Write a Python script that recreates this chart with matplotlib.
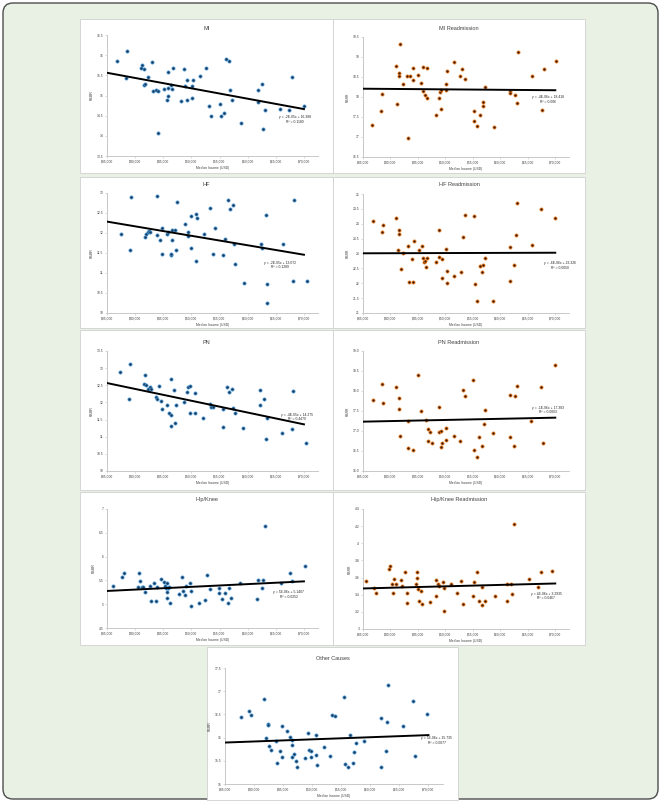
import numpy as np
import matplotlib
matplotlib.use('Agg')
import matplotlib.pyplot as plt
from matplotlib.patches import Rectangle, FancyBboxPatch
from matplotlib.ticker import FuncFormatter

# ---- data (median income, rate) per panel ----
mi_income = [36700, 38600, 38310, 41030, 41265, 41560, 41620, 41740, 42270, 43040, 43215, 43690, 44100,
             44100, 45110, 45580, 45820, 45870, 45870, 46290, 46470, 46700, 48240, 48770, 48890, 49240,
             49300, 50070, 50190, 50370, 51610, 52610, 53140, 53560, 55040, 55270, 55740, 56220, 56750,
             56870, 57220, 58820, 61830, 61770, 62540, 62720, 63070, 65730, 67390, 67800, 70000]
mi_rate = [15.85, 16.10, 15.43, 15.67, 15.75, 15.65, 15.25, 15.28, 15.45, 15.82, 15.11, 15.13, 15.10,
           14.08, 15.16, 14.89, 14.98, 15.58, 15.18, 15.26, 15.17, 15.68, 14.87, 15.65, 15.23, 14.88,
           15.38, 14.95, 15.23, 15.38, 15.48, 15.67, 14.73, 14.48, 14.78, 14.48, 14.57, 15.90, 15.85,
           15.14, 14.89, 14.33, 15.13, 14.85, 15.28, 14.18, 14.64, 14.67, 14.65, 15.45, 14.75]

mir_income = [36695, 38209, 38512, 40934, 41237, 41479, 41540, 41721, 42205, 43053, 43114, 43598, 44083,
              44143, 44991, 45536, 45899, 45838, 46262, 46626, 46686, 48260, 48745, 48927, 49290, 49230,
              50138, 50198, 50320, 51651, 52681, 53105, 53528, 55284, 55224, 55829, 56314, 56859, 56920,
              57222, 58857, 61763, 61824, 62671, 62974, 63216, 65820, 67515, 68000, 70119]
mir_rate = [17.31, 17.66, 18.08, 18.78, 17.82, 18.59, 18.53, 19.32, 18.33, 18.53, 16.98, 18.53, 18.72,
            18.43, 18.56, 18.35, 18.75, 18.14, 18.06, 18.72, 17.97, 17.55, 17.98, 18.13, 17.71, 18.17,
            18.33, 18.18, 18.65, 18.88, 18.53, 18.69, 18.46, 17.64, 17.39, 17.27, 17.54, 17.78, 17.87,
            18.25, 17.25, 18.15, 18.10, 18.06, 17.85, 19.12, 18.53, 17.67, 18.71, 18.90]

hf_income = [37460, 39020, 39320, 41720, 42020, 42320, 42440, 42620, 43820, 43940, 44480, 44780, 44840,
             45740, 45860, 46340, 46400, 46580, 46640, 47000, 47300, 47420, 48860, 49400, 49460, 49940,
             49940, 50780, 50840, 50960, 52280, 53240, 53780, 54140, 55700, 55940, 56420, 56840, 57380,
             57500, 57800, 59360, 62420, 62480, 63200, 63380, 63470, 66200, 68300, 68000, 70580]
hf_rate = [11.98, 11.57, 12.89, 11.91, 11.98, 12.03, 12.06, 12.03, 11.94, 12.93, 11.82, 12.12, 11.48,
           11.98, 12.03, 11.44, 11.48, 11.82, 12.08, 12.08, 11.58, 12.78, 12.23, 12.02, 11.92, 12.43,
           11.62, 11.31, 12.47, 12.37, 11.97, 12.62, 11.47, 12.12, 11.45, 11.85, 12.82, 12.60, 12.70,
           11.73, 11.23, 10.75, 11.73, 11.62, 12.44, 10.72, 10.26, 11.73, 12.82, 10.81, 10.79]

hfr_income = [36806, 38431, 38672, 41080, 41321, 41622, 41622, 41923, 42224, 43127, 43308, 44090, 44211,
              43910, 45234, 45716, 45956, 46017, 46257, 46498, 46679, 48244, 48846, 48786, 49388, 50170,
              49328, 50291, 50291, 51615, 52759, 53180, 53601, 55227, 55347, 56251, 56732, 56792, 57214,
              61789, 61849, 62572, 62812, 63113, 65762, 67388, 70036, 55769, 58719]
hfr_rate = [24.09, 23.71, 23.96, 24.19, 23.11, 23.79, 23.64, 22.49, 23.01, 23.24, 22.03, 22.03, 23.42,
            22.80, 23.13, 23.24, 22.86, 22.72, 22.74, 22.54, 22.86, 22.71, 23.79, 22.89, 22.83, 23.14,
            22.19, 22.41, 22.00, 22.26, 22.38, 23.57, 24.29, 24.26, 21.97, 22.59, 22.39, 22.61, 22.86,
            22.06, 23.22, 22.63, 23.63, 24.71, 23.30, 24.49, 24.19, 21.39, 21.39]

pn_income = [37340, 39080, 38900, 41780, 41600, 41960, 42200, 42620, 42800, 43700, 43940, 44300, 44600,
             44720, 45620, 46100, 46400, 46400, 46880, 47240, 48680, 49220, 49400, 49820, 49820, 50660,
             50720, 52100, 53240, 53540, 53900, 55700, 56240, 56720, 57200, 57380, 57680, 62120, 62240,
             62960, 68120, 63500, 46460, 47060, 55700, 59180, 63200, 66080, 67820, 70340]
pn_rate = [12.89, 13.13, 12.11, 12.79, 12.54, 12.50, 12.40, 12.44, 12.38, 12.15, 12.11, 12.48, 12.05,
           11.80, 11.93, 11.70, 11.62, 12.69, 12.36, 11.93, 12.00, 12.30, 12.44, 12.47, 11.70, 12.27,
           11.70, 11.55, 11.96, 11.88, 11.88, 11.82, 12.44, 12.30, 12.38, 11.83, 11.70, 11.93, 12.35,
           12.10, 12.33, 11.54, 11.32, 11.41, 11.29, 11.26, 10.93, 11.10, 11.23, 10.81]

pnr_income = [36746, 38371, 38612, 41020, 41502, 41562, 45053, 45595, 48786, 53120, 53541, 55107, 57292,
              61729, 62752, 63053, 67388, 69950, 41742, 43127, 44030, 46896, 47257, 46836, 47619, 49244,
              48846, 49208, 49328, 50170, 50170, 51495, 52639, 55227, 55769, 56190, 56672, 57094, 58719,
              61669, 62511, 65582, 67689, 43127, 46558]
pnr_rate = [17.77, 18.17, 17.70, 18.11, 17.83, 17.54, 18.39, 17.51, 17.59, 18.02, 17.87, 18.27, 17.53,
            17.90, 17.87, 18.13, 18.10, 18.64, 16.88, 16.57, 16.53, 17.04, 16.98, 16.76, 16.69, 16.61,
            16.98, 17.01, 16.69, 17.07, 16.78, 16.88, 16.75, 16.52, 16.36, 16.86, 16.63, 17.18, 16.96,
            16.86, 16.63, 17.25, 16.71, 17.25, 17.28]

hk_income = [36080, 37640, 38000, 40580, 40700, 40940, 41180, 41420, 41720, 42560, 42740, 43280, 43640,
             43880, 44600, 45140, 45320, 45500, 45620, 45800, 45620, 45740, 46100, 46280, 47780, 48380,
             48500, 48920, 48980, 49820, 49880, 49940, 51320, 52460, 52820, 53300, 54920, 54920, 55520,
             56060, 56540, 56720, 57080, 58640, 61700, 61820, 62600, 62780, 63080, 65840, 67520, 67820,
             70160]
hk_rate = [5.39, 5.57, 5.66, 5.37, 5.65, 5.49, 5.37, 5.37, 5.26, 5.39, 5.07, 5.44, 5.07,
           5.37, 5.53, 5.46, 5.39, 5.33, 5.14, 5.33, 5.26, 5.45, 5.37, 5.03, 5.21, 5.57,
           5.28, 5.19, 5.38, 5.45, 4.97, 5.28, 5.03, 5.08, 5.61, 5.32, 5.33, 5.24, 5.10,
           5.23, 5.02, 5.33, 5.12, 5.44, 5.10, 5.51, 5.33, 5.51, 6.64, 5.44, 5.65, 5.49,
           5.80]

hkr_income = [35482, 37047, 37348, 39816, 39997, 40298, 40418, 40659, 41080, 41923, 42104, 42706, 43007,
              43067, 44572, 44752, 44812, 44933, 45234, 45595, 45656, 47221, 48223, 48283, 48645, 48765,
              49548, 49669, 49789, 51052, 52196, 52778, 53179, 55147, 55087, 55688, 56089, 56631, 56751,
              57174, 59057, 61127, 61127, 61970, 62210, 62451, 65160, 66906, 67327, 69495]
hkr_rate = [3.56, 3.48, 3.42, 3.70, 3.73, 3.53, 3.42, 3.58, 3.53, 3.57, 3.50, 3.67, 3.42,
            3.30, 3.53, 3.59, 3.66, 3.47, 3.33, 3.44, 3.29, 3.31, 3.57, 3.38, 3.53, 3.50,
            3.55, 3.21, 3.48, 3.53, 3.42, 3.56, 3.29, 3.55, 3.39, 3.67, 3.33, 3.28, 3.49,
            3.33, 3.38, 3.33, 3.53, 3.52, 3.41, 4.23, 3.58, 3.49, 3.67, 3.68]

oc_income = [37690, 39180, 39460, 41750, 42040, 42320, 42440, 42610, 42950, 43750, 43920, 44440, 44780,
             44840, 45750, 46210, 46440, 46560, 46610, 46900, 47180, 47360, 48730, 49360, 49410, 49760,
             49870, 50620, 50670, 50790, 52050, 53080, 53480, 53880, 55480, 55590, 56110, 56510, 57020,
             57140, 57480, 58970, 61880, 61880, 62740, 62800, 63090, 65660, 67260, 67600, 69780]
oc_rate = [16.44, 16.57, 16.48, 16.84, 16.00, 16.29, 16.27, 15.82, 15.73, 15.93, 15.45, 15.71, 15.59,
           16.24, 16.14, 16.02, 15.95, 15.84, 15.59, 15.65, 15.50, 15.37, 15.55, 16.09, 15.73, 15.72,
           15.59, 16.06, 15.63, 15.42, 15.79, 15.60, 16.49, 16.47, 16.88, 15.43, 15.37, 16.06, 15.45,
           15.70, 15.88, 15.93, 16.42, 15.37, 15.71, 16.33, 17.13, 16.25, 16.79, 15.61, 16.50]

titles = ['MI', 'MI Readmission', 'HF', 'HF Readmission', 'PN', 'PN Readmission',
          'Hip/Knee', 'Hip/Knee Readmission', 'Other Causes']
equations = ['y = -2E-05x + 16.388\nR² = 0.1180', 'y = -4E-06x + 18.418\nR² = 0.006',
             'y = -2E-05x + 13.072\nR² = 0.1289', 'y = -6E-06x + 23.326\nR² = 0.0050',
             'y = -4E-05x + 14.275\nR² = 0.4470', 'y = -1E-06x + 17.383\nR² = 0.0003',
             'y = 5E-06x + 5.1407\nR² = 0.0252', 'y = 4E-06x + 3.2935\nR² = 0.0467',
             'y = 5E-06x + 15.735\nR² = 0.0077']
y_ranges = [(13.5, 16.5, 0.5), (16.5, 19.5, 0.5), (10, 13, 0.5), (21, 25, 0.5), (10, 13.5, 0.5),
            (16, 19, 0.5), (4.5, 7, 0.5), (3, 4.4, 0.2), (15, 17.5, 0.5)]
income_ticks = [35000, 40000, 45000, 50000, 55000, 60000, 65000, 70000]

W, H = 661, 802
BLUE = ('#1d3552', '#3f8fcc')
ORANGE = ('#3a1a08', '#e8791e')


def frac(l, t, r, b):
    return [l / W, 1 - b / H, (r - l) / W, (b - t) / H]


fig = plt.figure(figsize=(W / 100, H / 100), dpi=100)
fig.patch.set_facecolor('white')
fig.add_artist(FancyBboxPatch((0.03, 0.03), 6.55, 7.96, boxstyle='round,pad=0,rounding_size=0.1',
                              transform=fig.dpi_scale_trans, facecolor='#e8f1e3', edgecolor='#4d4d4d',
                              linewidth=1.0, zorder=-3))

# panel box (l, t, r, b), axes box (l, t, r, b), title y, equation pos (axes fraction)
layout = [
    ((80, 19, 333, 173), (107, 35, 318, 156), 28, (0.89, 0.30)),
    ((333, 19, 585, 173), (363, 37, 569, 157), 28, (0.90, 0.48)),
    ((80, 177, 333, 328), (107, 193, 318, 313), 185, (0.82, 0.40)),
    ((333, 177, 585, 328), (363, 194, 569, 313), 185, (0.955, 0.40)),
    ((80, 330, 333, 490), (107, 351, 318, 471), 343, (0.90, 0.45)),
    ((333, 330, 585, 490), (363, 351, 569, 471), 343, (0.90, 0.51)),
    ((80, 492, 333, 645), (107, 509, 318, 628), 500, (0.86, 0.28)),
    ((333, 492, 585, 645), (363, 509, 569, 629), 500, (0.89, 0.275)),
    ((207, 647, 458, 800), (225, 668, 443, 784), 658, (0.97, 0.375)),
]
data = [(mi_income, mi_rate), (mir_income, mir_rate), (hf_income, hf_rate), (hfr_income, hfr_rate),
        (pn_income, pn_rate), (pnr_income, pnr_rate), (hk_income, hk_rate), (hkr_income, hkr_rate),
        (oc_income, oc_rate)]

FONT = ['Liberation Sans', 'DejaVu Sans']

for i, (panel, axbox, ty, eqpos) in enumerate(layout):
    l, t, r, b = panel
    fig.add_artist(Rectangle((l / W, 1 - b / H), (r - l) / W, (b - t) / H, transform=fig.transFigure,
                             facecolor='white', edgecolor='#d0d0d0', linewidth=0.6, zorder=-2))
    fig.text((l + r) / 2 / W, 1 - ty / H, titles[i], ha='center', va='center', fontsize=4,
             family=FONT, color='#404040')

    ax = fig.add_axes(frac(*axbox))
    ax.set_zorder(1)
    ax.set_facecolor('none')
    x, y = data[i]
    readm = 'Readmission' in titles[i]
    face, edge = ORANGE if readm else BLUE
    ax.scatter(x, y, s=5, facecolor=face, edgecolor=edge, linewidth=0.6, zorder=3)

    k, c = np.polyfit(x, y, 1)
    xs = np.array([35000, 70000])
    ax.plot(xs, k * xs + c, color='black', linewidth=1.4, zorder=4)

    lo, hi, step = y_ranges[i]
    ax.set_xlim(35000, 72500)
    ax.set_ylim(lo, hi)
    ax.set_xticks(income_ticks)
    ax.set_yticks(np.arange(lo, hi + step / 2, step))
    ax.xaxis.set_major_formatter(FuncFormatter(lambda v, p: '${:,.0f}'.format(v)))
    if titles[i] == 'PN Readmission':
        ax.yaxis.set_major_formatter(FuncFormatter(lambda v, p: '{:.1f}'.format(v)))
    else:
        ax.yaxis.set_major_formatter(FuncFormatter(lambda v, p: '{:g}'.format(round(v, 2))))
    for side in ('top', 'right'):
        ax.spines[side].set_visible(False)
    for side in ('left', 'bottom'):
        ax.spines[side].set_color('#bfbfbf')
        ax.spines[side].set_linewidth(0.6)
    ax.tick_params(labelsize=2.4, length=1.5, width=0.4, color='#bfbfbf', pad=1.2,
                   labelcolor='#404040')
    for lab in ax.get_xticklabels() + ax.get_yticklabels():
        lab.set_family(FONT)
    ax.set_xlabel('Median Income (USD)', fontsize=2.4, labelpad=1.5, family=FONT, color='#404040')
    ax.set_ylabel('RSRR' if readm else 'RSMR', fontsize=2.4, labelpad=2, family=FONT, color='#404040')
    ax.text(eqpos[0], eqpos[1], equations[i], transform=ax.transAxes, fontsize=2.4, ha='center',
            va='center', multialignment='center', family=FONT, color='#262626', zorder=5)

fig.savefig('out.png', dpi=100)
